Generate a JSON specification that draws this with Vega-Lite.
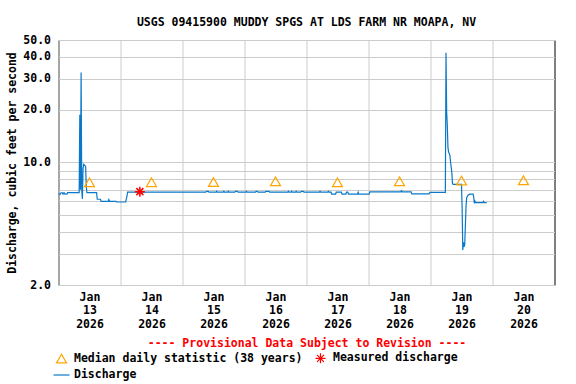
{
  "$schema": "https://vega.github.io/schema/vega-lite/v6.json",
  "width": 496,
  "height": 245,
  "autosize": {"type": "none"},
  "padding": {"left": 58.5, "top": 40, "right": 21.5, "bottom": 99},
  "title": {
    "text": "USGS 09415900 MUDDY SPGS AT LDS FARM NR MOAPA, NV",
    "font": "DejaVu Sans Mono",
    "fontSize": 11.5,
    "fontWeight": "bold",
    "color": "black",
    "anchor": "middle",
    "baseline": "bottom",
    "offset": -5
  },
  "datasets": {
    "flow": [
      {"t": "2026-01-13T00:00", "q": 6.6},
      {"t": "2026-01-13T00:45", "q": 6.6},
      {"t": "2026-01-13T01:00", "q": 6.72},
      {"t": "2026-01-13T01:30", "q": 6.72},
      {"t": "2026-01-13T01:45", "q": 6.6},
      {"t": "2026-01-13T02:00", "q": 6.72},
      {"t": "2026-01-13T02:15", "q": 6.72},
      {"t": "2026-01-13T02:30", "q": 6.6},
      {"t": "2026-01-13T03:15", "q": 6.6},
      {"t": "2026-01-13T03:30", "q": 6.73},
      {"t": "2026-01-13T08:00", "q": 6.73},
      {"t": "2026-01-13T08:15", "q": 18.7},
      {"t": "2026-01-13T08:30", "q": 7.0},
      {"t": "2026-01-13T08:45", "q": 32.6},
      {"t": "2026-01-13T09:00", "q": 6.9},
      {"t": "2026-01-13T09:15", "q": 6.2},
      {"t": "2026-01-13T09:30", "q": 9.2},
      {"t": "2026-01-13T09:45", "q": 9.77},
      {"t": "2026-01-13T10:15", "q": 9.6},
      {"t": "2026-01-13T10:30", "q": 9.5},
      {"t": "2026-01-13T10:45", "q": 7.3},
      {"t": "2026-01-13T11:00", "q": 6.73},
      {"t": "2026-01-13T14:45", "q": 6.73},
      {"t": "2026-01-13T15:00", "q": 6.17},
      {"t": "2026-01-13T16:15", "q": 6.17},
      {"t": "2026-01-13T16:30", "q": 6.0},
      {"t": "2026-01-13T19:15", "q": 6.0},
      {"t": "2026-01-13T19:30", "q": 6.15},
      {"t": "2026-01-13T19:45", "q": 6.0},
      {"t": "2026-01-13T22:15", "q": 6.0},
      {"t": "2026-01-13T22:30", "q": 5.95},
      {"t": "2026-01-14T02:00", "q": 5.95},
      {"t": "2026-01-14T02:15", "q": 6.2},
      {"t": "2026-01-14T02:30", "q": 6.4},
      {"t": "2026-01-14T02:45", "q": 6.77},
      {"t": "2026-01-15T09:00", "q": 6.77},
      {"t": "2026-01-15T09:15", "q": 6.85},
      {"t": "2026-01-15T10:00", "q": 6.85},
      {"t": "2026-01-15T10:15", "q": 6.77},
      {"t": "2026-01-15T13:00", "q": 6.77},
      {"t": "2026-01-15T13:15", "q": 6.85},
      {"t": "2026-01-15T13:30", "q": 6.77},
      {"t": "2026-01-15T15:45", "q": 6.77},
      {"t": "2026-01-15T16:00", "q": 6.85},
      {"t": "2026-01-15T16:15", "q": 6.77},
      {"t": "2026-01-15T17:30", "q": 6.77},
      {"t": "2026-01-15T17:45", "q": 6.85},
      {"t": "2026-01-15T18:00", "q": 6.77},
      {"t": "2026-01-15T20:15", "q": 6.77},
      {"t": "2026-01-15T20:30", "q": 6.85},
      {"t": "2026-01-15T21:15", "q": 6.85},
      {"t": "2026-01-15T21:30", "q": 6.77},
      {"t": "2026-01-16T00:30", "q": 6.77},
      {"t": "2026-01-16T00:45", "q": 6.85},
      {"t": "2026-01-16T01:00", "q": 6.77},
      {"t": "2026-01-16T04:15", "q": 6.77},
      {"t": "2026-01-16T04:30", "q": 6.85},
      {"t": "2026-01-16T05:00", "q": 6.85},
      {"t": "2026-01-16T05:15", "q": 6.77},
      {"t": "2026-01-16T08:00", "q": 6.77},
      {"t": "2026-01-16T08:15", "q": 6.85},
      {"t": "2026-01-16T09:30", "q": 6.85},
      {"t": "2026-01-16T09:45", "q": 6.77},
      {"t": "2026-01-16T16:45", "q": 6.77},
      {"t": "2026-01-16T17:00", "q": 6.85},
      {"t": "2026-01-16T17:15", "q": 6.77},
      {"t": "2026-01-16T18:00", "q": 6.77},
      {"t": "2026-01-16T18:15", "q": 6.85},
      {"t": "2026-01-16T18:30", "q": 6.77},
      {"t": "2026-01-16T19:45", "q": 6.77},
      {"t": "2026-01-16T20:00", "q": 6.85},
      {"t": "2026-01-16T20:15", "q": 6.77},
      {"t": "2026-01-16T21:45", "q": 6.77},
      {"t": "2026-01-16T22:00", "q": 6.85},
      {"t": "2026-01-16T22:45", "q": 6.85},
      {"t": "2026-01-16T23:00", "q": 6.77},
      {"t": "2026-01-17T05:00", "q": 6.77},
      {"t": "2026-01-17T05:15", "q": 6.85},
      {"t": "2026-01-17T05:30", "q": 6.77},
      {"t": "2026-01-17T08:15", "q": 6.77},
      {"t": "2026-01-17T08:30", "q": 6.85},
      {"t": "2026-01-17T08:45", "q": 6.77},
      {"t": "2026-01-17T09:30", "q": 6.77},
      {"t": "2026-01-17T09:45", "q": 6.6},
      {"t": "2026-01-17T11:15", "q": 6.6},
      {"t": "2026-01-17T11:30", "q": 6.77},
      {"t": "2026-01-17T13:30", "q": 6.77},
      {"t": "2026-01-17T13:45", "q": 6.6},
      {"t": "2026-01-17T15:15", "q": 6.6},
      {"t": "2026-01-17T15:30", "q": 6.77},
      {"t": "2026-01-17T16:00", "q": 6.77},
      {"t": "2026-01-17T16:15", "q": 6.6},
      {"t": "2026-01-17T19:45", "q": 6.6},
      {"t": "2026-01-17T20:00", "q": 6.77},
      {"t": "2026-01-17T20:15", "q": 6.6},
      {"t": "2026-01-18T00:15", "q": 6.6},
      {"t": "2026-01-18T00:30", "q": 6.8},
      {"t": "2026-01-18T12:30", "q": 6.8},
      {"t": "2026-01-18T12:45", "q": 6.9},
      {"t": "2026-01-18T13:00", "q": 6.8},
      {"t": "2026-01-18T16:30", "q": 6.8},
      {"t": "2026-01-18T16:45", "q": 6.62},
      {"t": "2026-01-18T23:30", "q": 6.62},
      {"t": "2026-01-18T23:45", "q": 6.76},
      {"t": "2026-01-19T05:45", "q": 6.76},
      {"t": "2026-01-19T06:00", "q": 42.3},
      {"t": "2026-01-19T06:15", "q": 19.5},
      {"t": "2026-01-19T06:30", "q": 16.4},
      {"t": "2026-01-19T06:45", "q": 12.2},
      {"t": "2026-01-19T07:00", "q": 11.5},
      {"t": "2026-01-19T07:30", "q": 11.0},
      {"t": "2026-01-19T07:45", "q": 10.1},
      {"t": "2026-01-19T08:15", "q": 8.8},
      {"t": "2026-01-19T08:30", "q": 7.6},
      {"t": "2026-01-19T08:45", "q": 7.5},
      {"t": "2026-01-19T12:00", "q": 7.5},
      {"t": "2026-01-19T12:15", "q": 5.44},
      {"t": "2026-01-19T12:30", "q": 3.17},
      {"t": "2026-01-19T12:45", "q": 3.5},
      {"t": "2026-01-19T13:00", "q": 3.3},
      {"t": "2026-01-19T13:15", "q": 3.4},
      {"t": "2026-01-19T13:45", "q": 5.6},
      {"t": "2026-01-19T14:00", "q": 6.3},
      {"t": "2026-01-19T14:15", "q": 6.4},
      {"t": "2026-01-19T14:30", "q": 6.5},
      {"t": "2026-01-19T15:15", "q": 6.6},
      {"t": "2026-01-19T16:30", "q": 6.6},
      {"t": "2026-01-19T16:45", "q": 6.3},
      {"t": "2026-01-19T17:00", "q": 5.85},
      {"t": "2026-01-19T17:15", "q": 6.0},
      {"t": "2026-01-19T17:30", "q": 5.9},
      {"t": "2026-01-19T20:15", "q": 5.9},
      {"t": "2026-01-19T20:30", "q": 6.0},
      {"t": "2026-01-19T20:45", "q": 5.9},
      {"t": "2026-01-19T21:45", "q": 5.9}
    ],
    "median": [
      {"t": "2026-01-13T12:00", "q": 7.71},
      {"t": "2026-01-14T12:00", "q": 7.72},
      {"t": "2026-01-15T12:00", "q": 7.74},
      {"t": "2026-01-16T12:00", "q": 7.81},
      {"t": "2026-01-17T12:00", "q": 7.7},
      {"t": "2026-01-18T12:00", "q": 7.81},
      {"t": "2026-01-19T12:00", "q": 7.88},
      {"t": "2026-01-20T12:00", "q": 7.92}
    ],
    "measured": [
      {"t": "2026-01-14T07:30", "q": 6.82}
    ]
  },
  "encoding": {
    "x": {
      "field": "t",
      "type": "temporal",
      "scale": {"domain": [{"year": 2026, "month": 1, "date": 13}, {"year": 2026, "month": 1, "date": 21}]},
      "axis": {
        "title": "---- Provisional Data Subject to Revision ----",
        "titleColor": "#ff0000",
        "titleFont": "DejaVu Sans Mono",
        "titleFontSize": 11.5,
        "titleFontWeight": "bold",
        "titlePadding": 8,
        "values": [
          {"year": 2026, "month": 1, "date": 13},
          {"year": 2026, "month": 1, "date": 14},
          {"year": 2026, "month": 1, "date": 15},
          {"year": 2026, "month": 1, "date": 16},
          {"year": 2026, "month": 1, "date": 17},
          {"year": 2026, "month": 1, "date": 18},
          {"year": 2026, "month": 1, "date": 19},
          {"year": 2026, "month": 1, "date": 20}
        ],
        "labelExpr": "[timeFormat(datum.value, '%b'), timeFormat(datum.value, '%d'), timeFormat(datum.value, '%Y')]",
        "labelOffset": 31,
        "labelAlign": "center",
        "labelBaseline": "top",
        "labelLineHeight": 13.5,
        "labelPadding": 6,
        "labelOverlap": false,
        "labelFlush": false,
        "labelBound": false,
        "ticks": false,
        "domain": false,
        "grid": true
      }
    },
    "y": {
      "field": "q",
      "type": "quantitative",
      "scale": {"type": "log", "domain": [2, 50]},
      "axis": {
        "title": "Discharge, cubic feet per second",
        "titleFont": "DejaVu Sans Mono",
        "titleFontSize": 11.5,
        "titleFontWeight": "bold",
        "titleColor": "black",
        "titlePadding": 5,
        "values": [2, 3, 4, 5, 6, 7, 8, 9, 10, 20, 30, 40, 50],
        "labelExpr": "(datum.value == 2 || datum.value == 10 || datum.value >= 20) ? format(datum.value, '.1f') : ''",
        "labelPadding": 8,
        "labelOverlap": false,
        "labelFlush": false,
        "labelBound": false,
        "ticks": false,
        "domain": false,
        "grid": true
      }
    }
  },
  "layer": [
    {
      "data": {"name": "flow"},
      "mark": {"type": "line", "strokeWidth": 1.2},
      "encoding": {
        "color": {
          "datum": "Discharge",
          "type": "nominal",
          "scale": {
            "domain": ["Median daily statistic (38 years)", "Measured discharge", "Discharge"],
            "range": ["#ffa500", "#ff0000", "#0a78c8"]
          },
          "legend": {
            "title": null,
            "orient": "none",
            "direction": "horizontal",
            "legendX": -3,
            "legendY": 312,
            "columns": 2,
            "columnPadding": 10,
            "rowPadding": 3,
            "padding": 0,
            "symbolSize": 256,
            "symbolStrokeWidth": 1.2,
            "labelOffset": 6.5,
            "labelFont": "DejaVu Sans Mono",
            "labelFontSize": 11.5,
            "labelFontWeight": "bold",
            "labelColor": "black",
            "labelLimit": 400,
            "encode": {
              "symbols": {
                "update": {
                  "size": {"signal": "datum.value === 'Discharge' ? 256 : 100"}
                }
              }
            }
          }
        }
      }
    },
    {
      "data": {"name": "median"},
      "mark": {"type": "point", "filled": false, "size": 100, "strokeWidth": 1.2, "opacity": 1},
      "encoding": {
        "color": {"datum": "Median daily statistic (38 years)", "type": "nominal"},
        "shape": {
          "datum": "Median daily statistic (38 years)",
          "type": "nominal",
          "scale": {
            "domain": ["Median daily statistic (38 years)", "Measured discharge", "Discharge"],
            "range": ["triangle-up", "M-1,0L1,0M0,-1L0,1M-0.7,-0.7L0.7,0.7M-0.7,0.7L0.7,-0.7", "stroke"]
          }
        }
      }
    },
    {
      "data": {"name": "measured"},
      "mark": {"type": "point", "filled": false, "size": 100, "strokeWidth": 1.5, "opacity": 1},
      "encoding": {
        "color": {"datum": "Measured discharge", "type": "nominal"},
        "shape": {"datum": "Measured discharge", "type": "nominal"}
      }
    }
  ],
  "config": {
    "view": {"stroke": "black", "strokeWidth": 1},
    "axis": {
      "gridColor": "#cccccc",
      "gridWidth": 1,
      "gridOpacity": 1,
      "labelFont": "DejaVu Sans Mono",
      "labelFontSize": 11.5,
      "labelFontWeight": "bold",
      "labelColor": "black"
    }
  }
}
